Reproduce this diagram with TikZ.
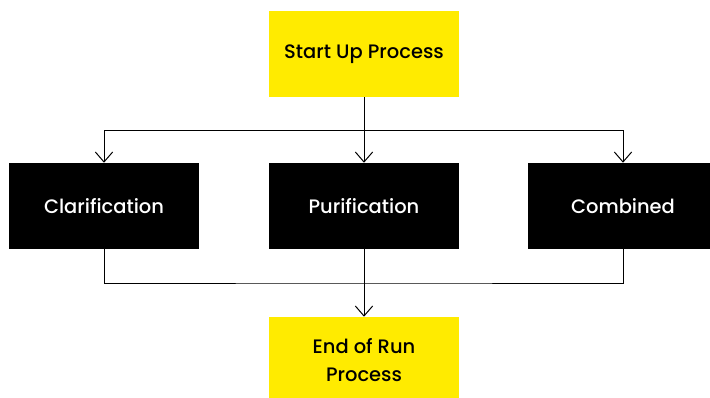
\documentclass[tikz,border=0pt]{standalone}
\usepackage{fontspec}
\setmainfont{Poppins}[UprightFont=* Medium]
\usetikzlibrary{arrows.meta}
\definecolor{flowyellow}{HTML}{FFEB00}

\begin{document}
\begin{tikzpicture}[x=0.75pt, y=-0.75pt,
        stage/.style={minimum width=142.5pt, minimum height=64.5pt, inner sep=0pt,
            align=center, font=\fontsize{14.6}{21}\selectfont},
        ends/.style={stage, fill=flowyellow, text=black},
        unit/.style={stage, fill=black, text=white},
        link/.style={line width=0.75pt, -{Straight Barb[length=7.5pt, width=13pt]}}]
            \useasboundingbox (0,0) rectangle (710,397);
            \clip (0,0) rectangle (710,397);

            \node[ends] (start) at (364,54) {Start Up Process};
            \node[unit] (clar) at (104,206) {Clarification};
            \node[unit] (puri) at (364,206) {Purification};
            \node[unit] (comb) at (623,206) {Combined};
            \node[ends] (end) at (364,360) {End of Run\\Process};

            \coordinate (split) at (364,130);
            \coordinate (join) at (364,283);

            \draw[line width=0.75pt] (start.south) -- (split);
            \foreach \n in {clar,puri,comb}{
                \draw[link] (split) -| (\n.north);
            }
            \draw[line width=0.75pt] (clar.south) |- (join) -| (comb.south);
            \draw[link] (puri.south) -- (end.north);
        \end{tikzpicture}
\end{document}
